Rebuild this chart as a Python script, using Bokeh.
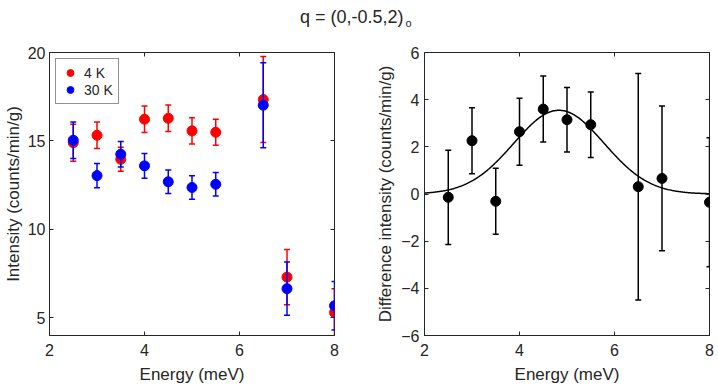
import numpy as np
from bokeh.plotting import figure
from bokeh.layouts import column, row
from bokeh.models import (ColumnDataSource, LinearAxis, Label, Legend, LegendItem,
                          Range1d, FixedTicker)
from bokeh.embed import file_html
from bokeh.resources import INLINE

# ---------------- data ----------------
energy = [2.5, 3.0, 3.5, 4.0, 4.5, 5.0, 5.5, 6.5, 7.0, 8.0]
int_4k = [14.90, 15.32, 13.96, 16.23, 16.28, 15.57, 15.49, 17.34, 7.30, 5.30]
err_4k = [1.05, 0.75, 0.68, 0.75, 0.75, 0.74, 0.73, 2.43, 1.56, 1.35]
int_30k = [15.04, 13.04, 14.25, 13.59, 12.69, 12.37, 12.55, 17.02, 6.65, 5.68]
err_30k = [1.03, 0.68, 0.72, 0.70, 0.66, 0.66, 0.67, 2.40, 1.50, 1.37]
diff = [-0.14, 2.26, -0.31, 2.64, 3.60, 3.15, 2.94, 0.31, 0.66, -0.35]
err_diff = [2.00, 1.40, 1.40, 1.42, 1.40, 1.37, 1.39, 4.80, 3.07, 2.73]

# Gaussian fit parameters (amplitude, centre, sigma)
fit_amp, fit_center, fit_sigma = 3.55, 4.83, 0.95

x_ticks = [2, 4, 6, 8]
left_y_ticks = [5, 10, 15, 20]
right_y_ticks = [-6, -4, -2, 0, 2, 4, 6]

title_main = "q = (0,-0.5,2)"
title_sub = "o"

FONT = "Liberation Sans"
TXT = "#262626"
TICK_FS = "16px"
LABEL_FS = "17px"


def box_axis(ticks):
    return LinearAxis(ticker=FixedTicker(ticks=ticks), major_label_text_font_size="1px",
                      major_label_text_color=None, major_label_standoff=0,
                      axis_line_color=None, major_tick_line_color=TXT,
                      major_tick_in=4, major_tick_out=0, minor_tick_line_color=None)


def style(p, yticks, ylabel, y_std, y_lab_std):
    p.xaxis.ticker = FixedTicker(ticks=x_ticks)
    p.yaxis.ticker = FixedTicker(ticks=yticks)
    p.xaxis.axis_label = "Energy (meV)"
    p.yaxis.axis_label = ylabel
    for ax in p.xaxis + p.yaxis:
        ax.axis_label_text_font = FONT
        ax.axis_label_text_font_size = LABEL_FS
        ax.axis_label_text_font_style = "normal"
        ax.axis_label_text_color = TXT
        ax.major_label_text_font = FONT
        ax.major_label_text_font_size = TICK_FS
        ax.major_label_text_color = TXT
        ax.axis_line_color = TXT
        ax.major_tick_line_color = TXT
        ax.major_tick_in = 4
        ax.major_tick_out = 0
        ax.minor_tick_line_color = None
    p.yaxis.major_label_standoff = y_std
    p.yaxis.axis_label_standoff = y_lab_std
    p.xaxis.major_label_standoff = 8
    p.xaxis.axis_label_standoff = 6
    p.add_layout(box_axis(x_ticks), "above")
    p.add_layout(box_axis(yticks), "right")
    p.xgrid.grid_line_color = None
    p.ygrid.grid_line_color = None
    p.outline_line_color = TXT
    p.outline_line_width = 1
    p.background_fill_color = "white"
    p.border_fill_color = "white"


def errbars(p, x, y, e, color):
    src = ColumnDataSource(dict(x=x, y=y,
                                lo=[a - b for a, b in zip(y, e)],
                                hi=[a + b for a, b in zip(y, e)]))
    p.segment(x0="x", y0="lo", x1="x", y1="hi", source=src, line_color=color, line_width=1.5)
    p.scatter(x="x", y="lo", source=src, marker="dash", size=6, line_color=color, line_width=1.5)
    p.scatter(x="x", y="hi", source=src, marker="dash", size=6, line_color=color, line_width=1.5)
    return p.scatter(x="x", y="y", source=src, marker="circle", size=10,
                     fill_color=color, line_color=color)


FRAME_W, FRAME_H = 285, 283
TOP, BOTTOM = 16, 54

# ---------------- left panel ----------------
pl = figure(frame_width=FRAME_W, frame_height=FRAME_H, x_range=Range1d(2, 8),
            y_range=Range1d(4, 20), output_backend="svg", toolbar_location=None,
            min_border_left=48, min_border_right=38, min_border_top=TOP,
            min_border_bottom=BOTTOM)
style(pl, left_y_ticks, "Intensity (counts/min/g)", 4, 2)
r4 = errbars(pl, energy, int_4k, err_4k, "#ff0000")
r30 = errbars(pl, energy, int_30k, err_30k, "#0000ff")
leg = Legend(items=[LegendItem(label="4 K", renderers=[r4]),
                    LegendItem(label="30 K", renderers=[r30])],
             location="top_left", border_line_color=TXT, border_line_width=1,
             label_text_font=FONT, label_text_font_size="14px", label_text_color=TXT,
             glyph_width=18, glyph_height=17, label_height=17, label_standoff=5,
             padding=5, spacing=0, margin=6, background_fill_alpha=1)
pl.add_layout(leg)

# ---------------- right panel ----------------
pr = figure(frame_width=FRAME_W, frame_height=FRAME_H, x_range=Range1d(2, 8),
            y_range=Range1d(-6, 6), output_backend="svg", toolbar_location=None,
            min_border_left=52, min_border_right=10, min_border_top=TOP,
            min_border_bottom=BOTTOM)
style(pr, right_y_ticks, "Difference intensity (counts/min/g)", 5, 3)
fx = np.linspace(2, 8, 301)
fy = fit_amp * np.exp(-(fx - fit_center) ** 2 / (2 * fit_sigma ** 2))
pr.line(fx, fy, line_color="black", line_width=1.5)
errbars(pr, energy, diff, err_diff, "black")

# ---------------- title ----------------
pt = figure(width=718, height=36, x_range=Range1d(0, 1), y_range=Range1d(0, 1),
            output_backend="svg", toolbar_location=None, min_border=0)
pt.axis.visible = False
pt.grid.grid_line_color = None
pt.outline_line_color = None
pt.add_layout(Label(x=403, y=20, x_units="screen", y_units="screen", text=title_main,
                    text_align="right", text_baseline="middle", text_font=FONT,
                    text_font_size="18px", text_color=TXT))
pt.add_layout(Label(x=405, y=14, x_units="screen", y_units="screen", text=title_sub,
                    text_align="left", text_baseline="middle", text_font=FONT,
                    text_font_size="11px", text_color=TXT))

layout = column(pt, row(pl, pr, spacing=0), spacing=0)
open("out.html", "w").write(file_html(layout, INLINE))
